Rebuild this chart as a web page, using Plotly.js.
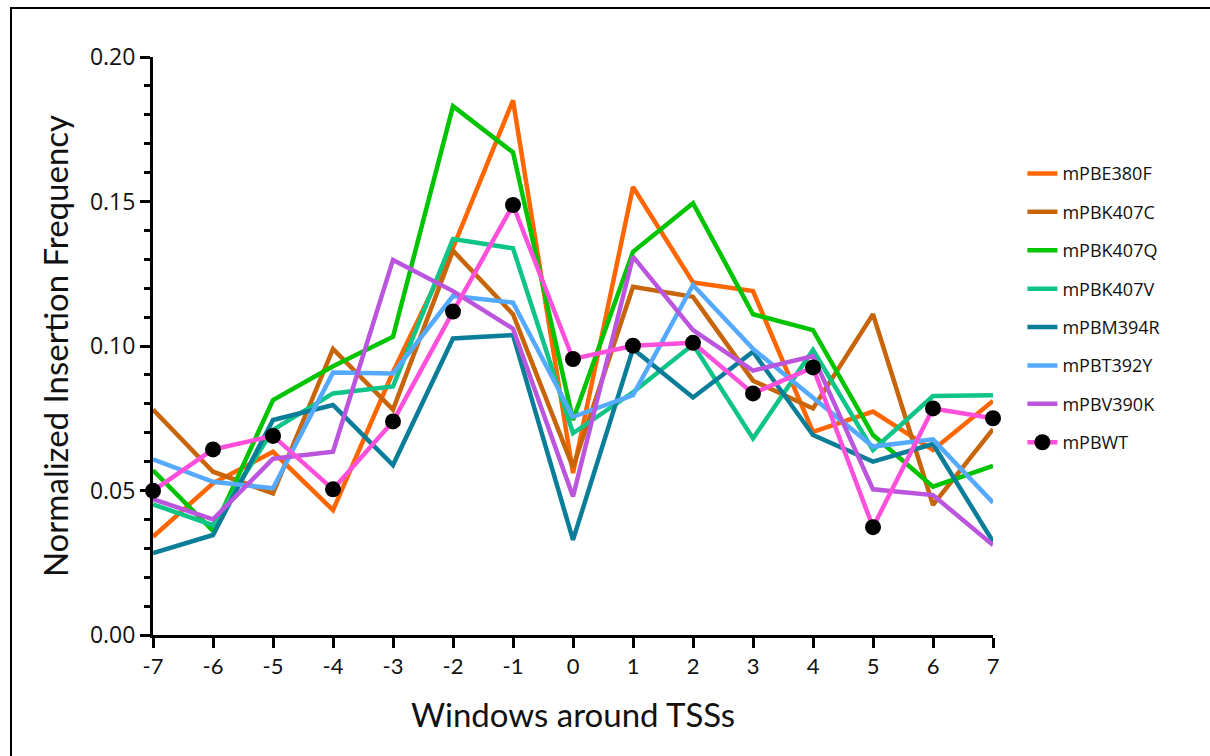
<!DOCTYPE html>
<html>
<head>
<meta charset="utf-8">
<script src="https://cdn.plot.ly/plotly-3.0.1.min.js"></script>
<style>
  html, body { margin: 0; padding: 0; background: #fff; overflow: hidden; }
  #chart { width: 1210px; height: 756px; position: absolute; left: 0; top: 0; }
  #frame { position: absolute; left: 10px; top: 7px; width: 1300px; height: 900px;
           border: 2px solid #000; pointer-events: none; }
</style>
</head>
<body>
<div id="chart"></div>
<div id="frame"></div>
<script>
// Windows around TSSs
const windows = [-7, -6, -5, -4, -3, -2, -1, 0, 1, 2, 3, 4, 5, 6, 7];
const windowLabels = ["-7", "-6", "-5", "-4", "-3", "-2", "-1", "0", "1", "2", "3", "4", "5", "6", "7"];
const yTickVals = [0, 0.05, 0.10, 0.15, 0.20];
const yTickLabels = ["0.00", "0.05", "0.10", "0.15", "0.20"];

const seriesNames = ["mPBE380F", "mPBK407C", "mPBK407Q", "mPBK407V", "mPBM394R", "mPBT392Y", "mPBV390K", "mPBWT"];

const mPBE380F = [0.034, 0.0525, 0.0634, 0.0432, 0.091, 0.134, 0.185, 0.056, 0.155, 0.122, 0.119, 0.0703, 0.0773, 0.064, 0.081];
const mPBK407C = [0.078, 0.0565, 0.049, 0.099, 0.078, 0.133, 0.111, 0.058, 0.1205, 0.117, 0.088, 0.0784, 0.111, 0.045, 0.0712];
const mPBK407Q = [0.057, 0.036, 0.0813, 0.093, 0.1032, 0.183, 0.167, 0.0744, 0.1326, 0.1494, 0.111, 0.1055, 0.0692, 0.0513, 0.0585];
const mPBK407V = [0.0452, 0.038, 0.071, 0.0836, 0.086, 0.137, 0.1338, 0.0698, 0.084, 0.1005, 0.068, 0.0986, 0.064, 0.0827, 0.083];
const mPBM394R = [0.0283, 0.0346, 0.0744, 0.0796, 0.0588, 0.1026, 0.1038, 0.0329, 0.099, 0.0822, 0.098, 0.0692, 0.060, 0.0661, 0.0323];
const mPBT392Y = [0.0608, 0.053, 0.0508, 0.0908, 0.0905, 0.1173, 0.115, 0.0755, 0.083, 0.1211, 0.099, 0.082, 0.0652, 0.0677, 0.0458];
const mPBV390K = [0.047, 0.040, 0.061, 0.0634, 0.1298, 0.119, 0.106, 0.0479, 0.1309, 0.1055, 0.0915, 0.0965, 0.0504, 0.0484, 0.0311];
const mPBWT    = [0.0499, 0.0642, 0.0689, 0.0504, 0.0739, 0.1119, 0.1488, 0.0955, 0.1001, 0.1011, 0.0836, 0.0926, 0.0373, 0.0784, 0.075];

const seriesValues = [mPBE380F, mPBK407C, mPBK407Q, mPBK407V, mPBM394R, mPBT392Y, mPBV390K, mPBWT];
const seriesColors = ["#FF6600", "#C8650A", "#00C400", "#0EC486", "#0A7E98", "#55AAFF", "#BB55DD", "#FF50DC"];

const traces = seriesNames.map((name, i) => {
  const t = {
    x: windows,
    y: seriesValues[i],
    name: name,
    legendgroup: name,
    type: "scatter",
    mode: "lines",
    line: { color: seriesColors[i], width: 4.5 },
    cliponaxis: false
  };
  if (name === "mPBWT") {
    t.mode = "lines+markers";
    t.marker = { color: "#000", size: 16, line: { width: 0 } };
  }
  return t;
});

const layout = {
  width: 1210,
  height: 756,
  margin: { l: 153, r: 217, t: 57, b: 121 },
  paper_bgcolor: "#fff",
  plot_bgcolor: "#fff",
  showlegend: true,
  legend: {
    x: 1.035, xanchor: "left",
    y: 0.83, yanchor: "top",
    font: { family: "Open Sans", size: 18, color: "#111" },
    tracegroupgap: 12,
    traceorder: "grouped",
    itemwidth: 30
  },
  xaxis: {
    range: [-7, 7],
    tickvals: windows,
    ticktext: windowLabels,
    showgrid: false,
    zeroline: false,
    showline: true,
    linecolor: "#000",
    linewidth: 3,
    ticks: "outside",
    ticklen: 10,
    tickwidth: 3,
    tickcolor: "#000",
    tickfont: { family: "Lato", size: 22, color: "#111" },
    title: { text: "Windows around TSSs", font: { family: "Lato", size: 33, color: "#111" }, standoff: 26 }
  },
  yaxis: {
    range: [0, 0.2],
    tickvals: yTickVals,
    ticktext: yTickLabels,
    showgrid: false,
    zeroline: false,
    showline: true,
    linecolor: "#000",
    linewidth: 3,
    ticks: "outside",
    ticklen: 10,
    tickwidth: 3,
    tickcolor: "#000",
    tickfont: { family: "Open Sans", size: 23, color: "#111" },
    minor: { dtick: 0.01, ticks: "outside", ticklen: 6, tickwidth: 3, tickcolor: "#000", showgrid: false },
    title: { text: "Normalized Insertion Frequency", font: { family: "Lato", size: 33, color: "#111" }, standoff: 12 }
  }
};

Plotly.newPlot("chart", traces, layout, { staticPlot: true, displayModeBar: false });
</script>
</body>
</html>
